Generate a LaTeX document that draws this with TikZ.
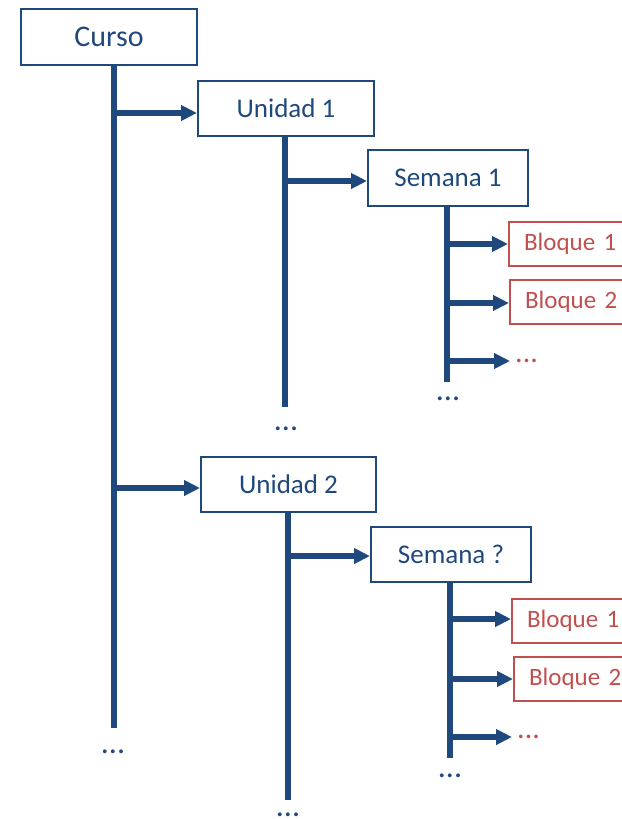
\documentclass[tikz,border=0pt]{standalone}
\usepackage{fontspec}
\setmainfont{Carlito}
\usetikzlibrary{arrows.meta}
\definecolor{blu}{RGB}{31,73,125}
\definecolor{rojo}{RGB}{192,80,77}
\begin{document}
\begin{tikzpicture}[x=1pt,y=-1pt,
  box/.style={draw=blu, line width=2pt, text=blu, inner sep=0pt, fill=white},
  bloque/.style={draw=rojo, line width=2pt, text=rojo, anchor=west, minimum height=44pt,
    text width=100pt, align=left, inner xsep=15pt, inner ysep=0pt,
    font=\fontsize{25}{30}\selectfont},
  trunk/.style={draw=blu, line width=6pt},
  arr/.style={draw=blu, line width=5.5pt, -{Triangle[length=16pt,width=15pt]}},
  bdots/.style={text=blu, anchor=base, inner sep=0pt, text height=5pt, text depth=0pt,
    font=\fontsize{32}{36}\selectfont},
  rdots/.style={text=rojo, anchor=base west, inner sep=0pt, text height=5pt, text depth=0pt,
    font=\fontsize{30}{36}\selectfont}
]
\useasboundingbox (0,0) rectangle (621,819);

% boxes
\node[box, minimum width=176pt, minimum height=56pt, font=\fontsize{30}{36}\selectfont] (curso) at (109,37) {Curso};
\node[box, minimum width=176pt, minimum height=55pt, font=\fontsize{27}{32}\selectfont] (u1) at (286,108.5) {Unidad 1};
\node[box, minimum width=160pt, minimum height=56pt, font=\fontsize{27}{32}\selectfont] (s1) at (448,178) {Semana 1};
\node[box, minimum width=175pt, minimum height=55pt, font=\fontsize{27}{32}\selectfont] (u2) at (288.5,484.5) {Unidad 2};
\node[box, minimum width=160pt, minimum height=55pt, font=\fontsize{27}{32}\selectfont] (s2) at (451,554.5) {Semana ?};

\node[bloque] (b11) at (508,244) {Bloque 1};
\node[bloque] (b12) at (509,302) {Bloque 2};
\node[bloque] (b21) at (511,620.5) {Bloque 1};
\node[bloque] (b22) at (513,678.5) {Bloque 2};

% trunk coordinates
\coordinate (cT) at (113.5,66);   \coordinate (cB) at (113.5,728);
\coordinate (u1T) at (284.5,137); \coordinate (u1B) at (284.5,407);
\coordinate (s1T) at (447.2,207); \coordinate (s1B) at (447.2,382);
\coordinate (u2T) at (288,513);   \coordinate (u2B) at (288,800);
\coordinate (s2T) at (449.7,583); \coordinate (s2B) at (449.7,758);

\draw[trunk] (cT) -- (cB);
\draw[trunk] (u1T) -- (u1B);
\draw[trunk] (s1T) -- (s1B);
\draw[trunk] (u2T) -- (u2B);
\draw[trunk] (s2T) -- (s2B);

% branch points
\coordinate (c1) at (113.5,113);
\coordinate (c2) at (113.5,488);
\coordinate (u1a) at (284.5,181);
\coordinate (u2a) at (288,556);
\coordinate (s1a) at (447.2,244);
\coordinate (s1b) at (447.2,303);
\coordinate (s1c) at (447.2,361);
\coordinate (s2a) at (449.7,619);
\coordinate (s2b) at (449.7,679);
\coordinate (s2c) at (449.7,737);
\coordinate (r1) at (510,361);
\coordinate (r2) at (512,737);

\draw[arr] (c1) -- (c1 -| u1.west);
\draw[arr] (c2) -- (c2 -| u2.west);
\draw[arr] (u1a) -- (u1a -| s1.west);
\draw[arr] (u2a) -- (u2a -| s2.west);
\draw[arr] (s1a) -- (s1a -| b11.west);
\draw[arr] (s1b) -- (s1b -| b12.west);
\draw[arr] (s1c) -- (r1);
\draw[arr] (s2a) -- (s2a -| b21.west);
\draw[arr] (s2b) -- (s2b -| b22.west);
\draw[arr] (s2c) -- (r2);

% dots
\node[rdots] (rd1) at (515,362) {...};
\node[rdots] (rd2) at (517,738.5) {...};
\node[bdots] (d1) at (113,753.5) {...};
\node[bdots] (d2) at (286,430.5) {...};
\node[bdots] (d3) at (448,400.5) {...};
\node[bdots] (d4) at (288,816) {...};
\node[bdots] (d5) at (450,777.5) {...};
\end{tikzpicture}
\end{document}
